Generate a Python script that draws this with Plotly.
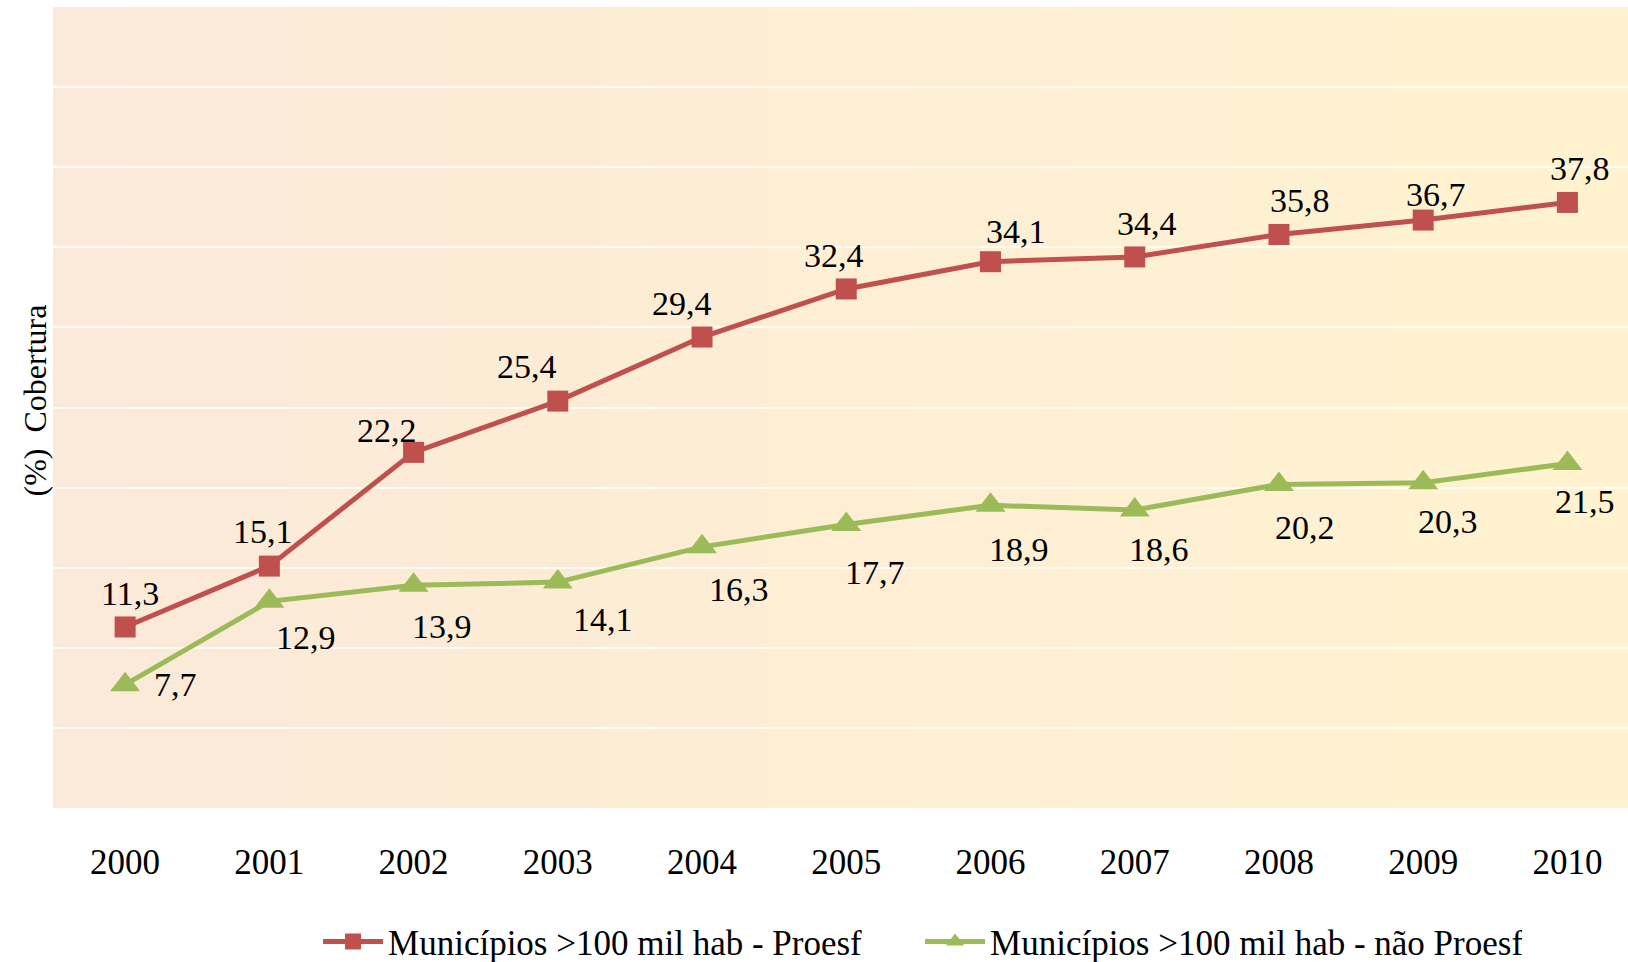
import plotly.graph_objects as go

years = ["2000", "2001", "2002", "2003", "2004", "2005", "2006", "2007", "2008", "2009", "2010"]
proesf = [11.3, 15.1, 22.2, 25.4, 29.4, 32.4, 34.1, 34.4, 35.8, 36.7, 37.8]
nao_proesf = [7.7, 12.9, 13.9, 14.1, 16.3, 17.7, 18.9, 18.6, 20.2, 20.3, 21.5]
name_proesf = "Municípios >100 mil hab - Proesf"
name_nao = "Municípios >100 mil hab - não Proesf"

RED = "#C0504D"
GREEN = "#9BBB59"
FONT = "Liberation Serif"

# label offsets (px): (dx, dy-down)
red_off = [(5, -33), (-6, -35), (-27, -22), (-31, -35), (-20, -34), (-12, -33),
           (25, -30), (12, -33), (21, -34), (13, -26), (13, -34)]
green_off = [(50, 0), (37, 36), (28, 41), (45, 37), (37, 43), (29, 48),
             (28, 44), (24, 39), (26, 43), (25, 39), (18, 38)]

fig = go.Figure()
fig.add_trace(go.Scatter(x=years, y=proesf, name=name_proesf, mode="lines+markers",
                         line=dict(color=RED, width=5),
                         marker=dict(symbol="square", size=21, color=RED)))
fig.add_trace(go.Scatter(x=years, y=nao_proesf, name=name_nao, mode="lines+markers",
                         line=dict(color=GREEN, width=5),
                         marker=dict(symbol="triangle-up", size=26, color=GREEN)))

def fmt(v):
    return f"{v:.1f}".replace(".", ",")

for vals, offs in ((proesf, red_off), (nao_proesf, green_off)):
    for i, (v, (dx, dy)) in enumerate(zip(vals, offs)):
        fig.add_annotation(x=i, y=v, text=fmt(v), showarrow=False,
                           xshift=dx, yshift=-dy,
                           font=dict(family=FONT, size=34, color="black"))

# gradient background
n = 80
c0 = (251, 233, 217)
c1 = (255, 243, 207)
for i in range(n):
    t = i / (n - 1)
    col = tuple(round(a + (b - a) * t) for a, b in zip(c0, c1))
    fig.add_shape(type="rect", xref="x domain", yref="y domain",
                  x0=i / n, x1=(i + 1) / n + 0.002, y0=0, y1=1,
                  fillcolor=f"rgb{col}", line=dict(width=0), layer="below")

fig.add_annotation(xref="paper", yref="paper", x=0, y=0.5, xshift=-19, yshift=7,
                   xanchor="center", yanchor="middle",
                   text="(%)\u00a0\u00a0Cobertura", textangle=-90, showarrow=False,
                   font=dict(family=FONT, size=32, color="black"))

fig.update_layout(
    width=1628, height=962,
    margin=dict(l=53, r=0, t=7, b=154, autoexpand=False),
    paper_bgcolor="white", plot_bgcolor="white",
    font=dict(family=FONT, color="black"),
    showlegend=True,
    legend=dict(orientation="h", x=0.5505, xanchor="center",
                yref="container", y=0.021, yanchor="middle",
                font=dict(family=FONT, size=35), itemwidth=60,
                entrywidth=527, entrywidthmode="pixels",
                bgcolor="rgba(0,0,0,0)"),
    xaxis=dict(type="category", range=[-0.5, 10.42], showgrid=False, zeroline=False,
               showline=False, ticks="", ticklabelstandoff=30, automargin=False,
               tickfont=dict(family=FONT, size=35, color="black")),
    yaxis=dict(range=[0, 50], dtick=5, showticklabels=False, showgrid=True,
               gridcolor="rgba(255,255,255,0.75)", gridwidth=1.5, zeroline=False,
               showline=False, ticks="", automargin=False),
)

fig.write_html("out.html", config={"displayModeBar": False},
               post_script="document.body.style.margin='0';document.body.style.overflow='hidden';")
